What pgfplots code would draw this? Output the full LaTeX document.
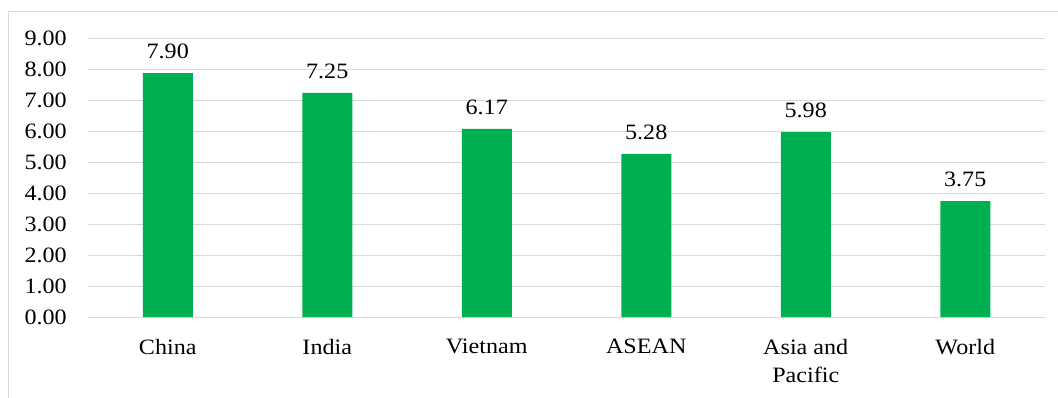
\documentclass[border=0pt]{standalone}
\usepackage{fontspec}
\setmainfont{Liberation Serif}[FakeStretch=1.1]
\usepackage{pgfplots}
\usepackage{pgfplotstable}
\pgfplotsset{compat=1.18}
\definecolor{bargreen}{HTML}{00B050}
\definecolor{gridgray}{HTML}{D9D9D9}
\pgfplotstableread{
x y lab
0 7.87 7.90
1 7.23 7.25
2 6.07 6.17
3 5.26 5.28
4 5.96 5.98
5 3.74 3.75
}\datatable
\begin{document}
\fontsize{22}{26}\selectfont
\begin{tikzpicture}[x=1bp,y=1bp]
\useasboundingbox (0,0) rectangle (1058,397);
\draw[gridgray, line width=1bp] (8,-20) rectangle (1100,385);
\begin{axis}[
  at={(88bp,80bp)}, anchor=south west,
  scale only axis, width=957bp, height=279bp,
  xmin=-0.5, xmax=5.5, ymin=0, ymax=9,
  axis line style={draw=none},
  ytick={0,1,...,9},
  xtick={0,1,2,3,4,5},
  xticklabels={China,India,Vietnam,ASEAN,{Asia and\\Pacific},World},
  major tick length=0pt,
  ymajorgrids, grid style={gridgray, line width=1bp},
  yticklabel style={/pgf/number format/fixed, /pgf/number format/fixed zerofill, /pgf/number format/precision=2, /pgf/number format/assume math mode=true},
  yticklabel style={font=\fontsize{22}{26}\selectfont, inner sep=0pt, xshift=-21bp, anchor=east},
  xticklabel style={font=\fontsize{22}{28}\selectfont, align=center, inner sep=0pt, anchor=north, yshift=-22bp},
  ybar, bar width=50bp,
  nodes near coords,
  point meta=explicit symbolic,
  every node near coord/.append style={font=\fontsize{22}{26}\selectfont, inner sep=0pt, anchor=south, yshift=14bp},
]
\addplot[fill=bargreen, draw=none] table[x=x, y=y, meta=lab] {\datatable};
\end{axis}
\end{tikzpicture}
\end{document}
